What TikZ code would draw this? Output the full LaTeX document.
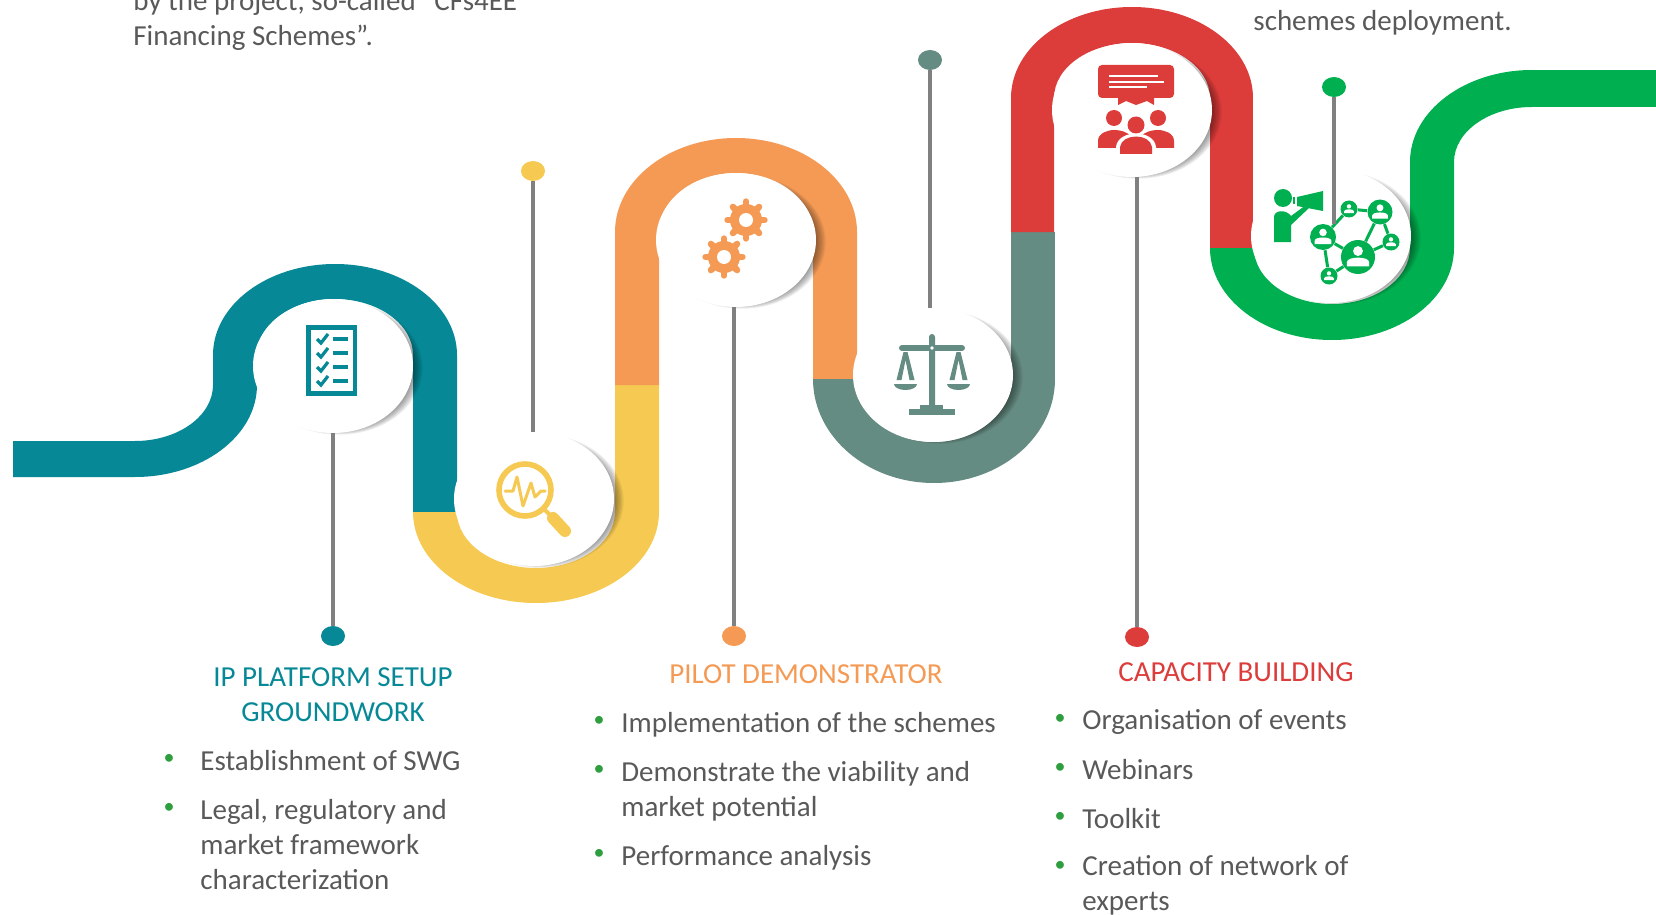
\documentclass[tikz,border=0pt]{standalone}
\usepackage{fontspec}
\setmainfont{Carlito}
\usepackage{xcolor}
\usepackage{tikz}
\usetikzlibrary{shapes.geometric}
\definecolor{ipteal}{HTML}{068896}
\definecolor{ipyellow}{HTML}{F6C952}
\definecolor{iporange}{HTML}{F49A55}
\definecolor{ipsage}{HTML}{658C82}
\definecolor{ipred}{HTML}{DC3C3A}
\definecolor{ipgreen}{HTML}{00AF50}
\definecolor{ipstem}{HTML}{808080}
\definecolor{iptext}{HTML}{595959}
\definecolor{ipbullet}{HTML}{2E9E3F}
\tikzstyle{disc}=[ellipse,fill=white,inner sep=0pt,minimum width=80pt,minimum height=67pt]
\tikzstyle{dot}=[ellipse,inner sep=0pt,minimum width=12pt,minimum height=10pt]
\tikzstyle{stem}=[draw=ipstem,line width=2pt]
\tikzstyle{heading}=[inner sep=0pt,align=center,font=\fontsize{14.5}{17.5}\selectfont]
\tikzstyle{body}=[inner sep=0pt,align=left,anchor=north west,text=iptext,font=\fontsize{14.5}{17.6}\selectfont]
\tikzstyle{bullet}=[inner sep=0pt,text=ipbullet,font=\fontsize{11}{13}\selectfont]
\tikzstyle{netnode}=[circle,fill=ipgreen,inner sep=0pt]
\newcommand{\gearicon}[2]{
  \begin{scope}[shift={(#1,#2)}]
    \fill[iporange] (0,0) circle[radius=16];
    \foreach \a in {0,45,...,315}
      \draw[iporange,line width=3.2pt,line cap=round,rotate=\a] (0,-13) -- (0,-18.5);
    \fill[white] (0,0) circle[radius=7];
  \end{scope}
}
\newcommand{\netperson}[2]{
  \begin{scope}[shift={(#1)},scale=#2]
    \fill[white] (0,-3.5) circle[radius=2.9];
    \fill[white] (-6.5,5.5) -- (-6.5,3) .. controls (-6.5,-.5) and (6.5,-.5) .. (6.5,3) -- (6.5,5.5) -- cycle;
  \end{scope}
}
\begin{document}
\begin{tikzpicture}[x=0.5pt,y=-0.5pt]
  \useasboundingbox (0,0) rectangle (1656,915);
  \fill[ipteal] (13,441) -- (135,441) arc[start angle=90,end angle=0,x radius=78,y radius=56]
    -- (213,355) arc[start angle=180,end angle=360,x radius=122,y radius=91]
    -- (457,512) -- (413,512) -- (413,355) arc[start angle=360,end angle=180,x radius=78,y radius=56]
    -- (257,385) arc[start angle=0,end angle=90,x radius=122,y radius=92]
    -- (13,477) -- cycle;
  \fill[ipyellow] (413,512) arc[start angle=180,end angle=0,x radius=123,y radius=91]
    -- (659,385) -- (615,385) -- (615,512) arc[start angle=0,end angle=180,x radius=79,y radius=56] -- cycle;
  \fill[iporange] (615,385) -- (615,232) arc[start angle=180,end angle=360,x radius=121,y radius=94]
    -- (857,379) -- (813,379) -- (813,232) arc[start angle=360,end angle=180,x radius=77,y radius=59]
    -- (659,385) -- cycle;
  \fill[ipsage] (813,379) arc[start angle=180,end angle=0,x radius=121,y radius=104]
    -- (1011,379) arc[start angle=0,end angle=180,x radius=77,y radius=63] -- cycle;
  \fill[ipsage] (1011,232) rectangle (1055,379);
  \fill[ipred] (1011,232) -- (1011,98) arc[start angle=180,end angle=360,x radius=121,y radius=91]
    -- (1210,98) arc[start angle=360,end angle=180,x radius=78,y radius=55] -- (1054,232) -- cycle;
  \fill[ipred] (1210,98) rectangle (1253,248);
  \fill[ipgreen] (1210,248) arc[start angle=180,end angle=0,x radius=122,y radius=92]
    -- (1454,162) -- (1410,162) -- (1410,248) arc[start angle=0,end angle=180,x radius=78,y radius=56] -- cycle;
  \fill[ipgreen] (1410,162) arc[start angle=180,end angle=270,x radius=122,y radius=92]
    -- (1532,107) arc[start angle=270,end angle=180,x radius=78,y radius=55] -- cycle;
  \fill[ipgreen] (1532,70) rectangle (1656,107);

  \foreach \name/\x/\y in {tealdisc/333/366,yellowdisc/534/499,orangedisc/736/240,sagedisc/933/375,reddisc/1132/110,greendisc/1331/236} {
    \foreach \k in {0,...,9}
      \fill[black,opacity=.06] (\x+6,\y+2) ellipse[x radius=72+\k*1.3,y radius=60+\k*.75];
    \node at (\x,\y) [disc] (\name) {};
  }

  \node at (333,636) [dot,fill=ipteal] (tealdot) {};
  \node at (533,171) [dot,fill=ipyellow] (yellowdot) {};
  \node at (734,636) [dot,fill=iporange] (orangedot) {};
  \node at (930,60) [dot,fill=ipsage] (sagedot) {};
  \node at (1137,637) [dot,fill=ipred] (reddot) {};
  \node at (1334,87) [dot,fill=ipgreen] (greendot) {};

  \fill[ipteal] (306,325) rectangle (357,396);
  \fill[white] (311,330) rectangle (353,391);
  \foreach \y in {339,353,367,381} {
    \draw[ipteal,line width=1.6pt] (317,\y) -- (321,\y+4) -- (328,\y-5);
    \fill[ipteal] (333,\y-2) rectangle (348,\y+2);
  }

  \draw[ipyellow,line width=2.8pt] (525,490) circle[radius=26];
  \draw[ipyellow,line width=1.5pt,line cap=round,line join=round] (505,491) -- (513,491) -- (517,477) -- (523,506) -- (531,483) -- (535,497) -- (541,491) -- (545,491);
  \draw[ipyellow,line width=2pt] (544,509) -- (552,517);
  \draw[ipyellow,line width=6pt,line cap=round] (553,518) -- (565,531);

  \gearicon{746}{220}
  \gearicon{724}{257}

  \fill[ipsage] (929,348) -- (929,337) arc[start angle=180,end angle=360,radius=3] -- (935,405) -- (929,405) -- cycle;
  \draw[ipsage,line width=3pt,line cap=round] (902,348) -- (962,348);
  \fill[white] (932,348) circle[radius=1.8];
  \fill[ipsage] (920,405) rectangle (943,409);
  \fill[ipsage] (909,409) rectangle (955,415);
  \foreach \c in {905.5,958.5} {
    \fill[ipsage] (\c-2,352) -- (\c+2,352) -- (\c+9,380) -- (\c+4,380) -- (\c,360) -- (\c-4,380) -- (\c-9,380) -- cycle;
    \fill[ipsage] (\c-11.5,384) arc[start angle=180,end angle=0,x radius=11.5,y radius=6] -- cycle;
  }

  \fill[ipred,rounded corners=2pt] (1098,65) rectangle (1174,98);
  \fill[ipred] (1118,97) -- (1154,97) -- (1154,105) -- (1147,101) -- (1136,105) -- (1126,101) -- (1118,105) -- cycle;
  \draw[white,line width=.8pt] (1109,76) -- (1158,76) (1109,82) -- (1164,82) (1109,87) -- (1147,87);
  \fill[ipred] (1114,118) circle[radius=8];
  \fill[ipred] (1158,118) circle[radius=8];
  \fill[ipred] (1098,148) -- (1098,141) .. controls (1098,133) and (1108,130) .. (1114,130) .. controls (1122,130) and (1130,133) .. (1134,140) -- (1134,148) -- cycle;
  \fill[ipred] (1174,148) -- (1174,141) .. controls (1174,133) and (1164,130) .. (1158,130) .. controls (1150,130) and (1142,133) .. (1138,140) -- (1138,148) -- cycle;
  \fill[white] (1116,156) -- (1116,147) .. controls (1118,129) and (1154,129) .. (1156,147) -- (1156,156) -- cycle;
  \fill[white] (1136,125) circle[radius=10];
  \fill[ipred] (1136,125) circle[radius=8.5];
  \fill[ipred] (1120,154) -- (1120,147) .. controls (1122,133) and (1150,133) .. (1152,147) -- (1152,154) -- cycle;

  \fill[ipgreen] (1283,198) circle[radius=9];
  \fill[ipgreen] (1274,242) -- (1274,217) .. controls (1274,210) and (1286,209) .. (1291,216) -- (1306,205) -- (1309,208) -- (1291,225) -- (1291,242) -- cycle;
  \fill[ipgreen] (1297,197) -- (1323,191) -- (1323,211) -- (1297,206) -- cycle;
  \fill[ipgreen] (1293,197) rectangle (1295,204);

  \node at (1323,237) [netnode,minimum size=13pt] (netA) {};
  \node at (1358,257) [netnode,minimum size=17pt] (netB) {};
  \node at (1380,212) [netnode,minimum size=12.5pt] (netC) {};
  \node at (1349,209) [netnode,minimum size=8.5pt] (netD) {};
  \node at (1391,242) [netnode,minimum size=8.5pt] (netE) {};
  \node at (1329,276) [netnode,minimum size=8.5pt] (netF) {};
  \foreach \p/\q in {netF/netA,netF/netB,netA/netB,netA/netD,netD/netC,netC/netB,netC/netE,netE/netB}
    \draw[ipgreen,line width=1.5pt] (\p) -- (\q);
  \netperson{netA}{1.3}
  \netperson{netB}{1.7}
  \netperson{netC}{1.2}
  \netperson{netD}{.75}
  \netperson{netE}{.75}
  \netperson{netF}{.75}

  \draw [stem] (tealdot) -- (tealdot |- tealdisc.south);
  \draw [stem] (yellowdot) -- (yellowdot |- yellowdisc.north);
  \draw [stem] (orangedot) -- (orangedot |- orangedisc.south);
  \draw [stem] (sagedot) -- (sagedot |- sagedisc.north);
  \draw [stem] (reddot) -- (reddot |- reddisc.south);
  \draw [stem] (greendot) -- (greendot |- netA.north);

  \node at (133,51) [body,anchor=south west] (introtext) {by the project, so-called “CFs4EE\\Financing Schemes”.};
  \node at (1253,31) [body,anchor=base west] (deploytext) {schemes deployment.};

  \node at (333,694.5) [heading,text=ipteal] (ipheading) {IP PLATFORM SETUP\\GROUNDWORK};
  \node at (169,759) [bullet] (ipbulleta) {•};
  \node at (200,749.5) [body] (ipa) {Establishment of SWG};
  \node at (169,808) [bullet] (ipbulletb) {•};
  \node at (200,798.5) [body] (ipb) {Legal, regulatory and\\market framework\\characterization};

  \node at (806,674) [heading,text=iporange] (pilotheading) {PILOT DEMONSTRATOR};
  \node at (599,721) [bullet] (pilotbulleta) {•};
  \node at (621,711.5) [body] (pilota) {Implementation of the schemes};
  \node at (599,770) [bullet] (pilotbulletb) {•};
  \node at (621,760.5) [body] (pilotb) {Demonstrate the viability and\\market potential};
  \node at (599,854) [bullet] (pilotbulletc) {•};
  \node at (621,844.5) [body] (pilotc) {Performance analysis};

  \node at (1236,672) [heading,text=ipred] (capheading) {CAPACITY BUILDING};
  \node at (1060,719) [bullet] (capbulleta) {•};
  \node at (1082,709.5) [body] (capa) {Organisation of events};
  \node at (1060,768) [bullet] (capbulletb) {•};
  \node at (1082,758.5) [body] (capb) {Webinars};
  \node at (1060,817) [bullet] (capbulletc) {•};
  \node at (1082,807.5) [body] (capc) {Toolkit};
  \node at (1060,866) [bullet] (capbulletd) {•};
  \node at (1082,855) [body] (capd) {Creation of network of\\experts};
\end{tikzpicture}
\end{document}
